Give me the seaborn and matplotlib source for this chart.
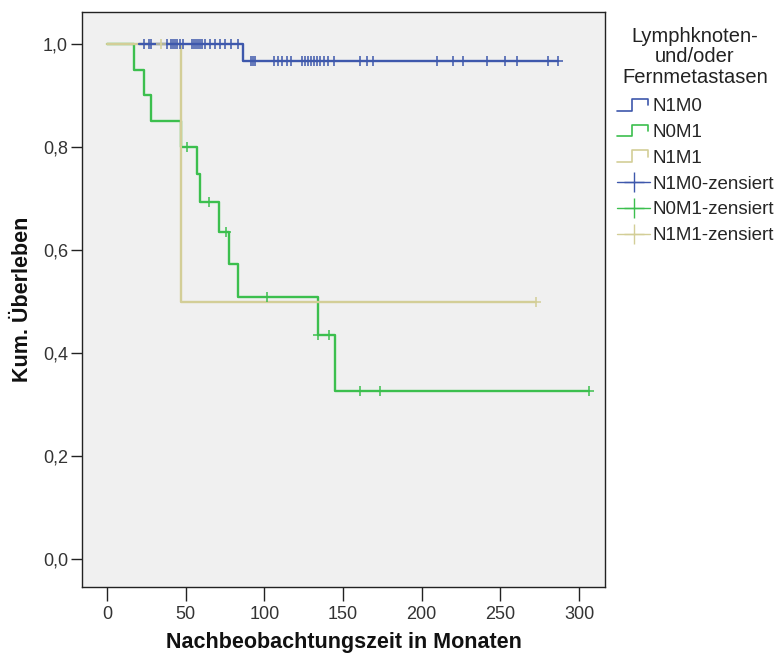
import numpy as np
import pandas as pd
import matplotlib
matplotlib.use("Agg")
import matplotlib.pyplot as plt
import seaborn as sns
from matplotlib.lines import Line2D
from matplotlib.legend_handler import HandlerBase
from matplotlib.ticker import FuncFormatter

# ---------------- data (months) ----------------
groups = ["N1M0", "N0M1", "N1M1"]
curve_start = [20.5, 0.0, 0.0]

n1m0_events = [86.5]
n1m0_censored = [23.2, 27.0, 28.0, 38.1, 40.7, 41.9, 43.2, 44.5, 46.4, 48.3,
                 54.0, 55.3, 56.6, 57.8, 59.1, 60.4, 62.3, 65.5, 68.6, 71.8,
                 75.0, 78.8, 83.3,
                 91.5, 93.0, 94.1, 106.1, 108.7, 111.2, 114.4, 117.0, 123.9, 125.9,
                 127.8, 129.7, 131.6, 133.5, 135.4, 137.9, 140.4, 144.3, 160.8,
                 165.3, 169.1, 209.7, 219.9, 226.3, 241.5, 253.0, 260.6, 280.3, 286.7]

n0m1_events = [17.3, 23.7, 27.8, 46.8, 57.0, 59.0, 71.2, 77.5, 83.5, 134.0, 145.0]
n0m1_censored = [50.8, 64.8, 75.5, 101.5, 134.0, 141.0, 161.0, 173.5, 306.4]

n1m1_events = [46.8]
n1m1_censored = [34.5, 272.7]

events = [n1m0_events, n0m1_events, n1m1_events]
censored = [n1m0_censored, n0m1_censored, n1m1_censored]

colors = ["#3E58AC", "#3CBF4E", "#D3CE97"]
legend_title = "Lymphknoten-\nund/oder\nFernmetastasen"


def kaplan_meier(ev, ce, start):
    ev = np.asarray(ev, float)
    ce = np.asarray(ce, float)
    alltimes = np.concatenate([ev, ce])
    t_pts, s_pts = [start], [1.0]
    s = 1.0
    for t in np.unique(ev):
        d = np.sum(ev == t)
        n = np.sum(alltimes >= t)
        s *= 1 - d / n
        t_pts.append(t)
        s_pts.append(s)
    tmax = alltimes.max()
    if tmax > t_pts[-1]:
        t_pts.append(tmax)
        s_pts.append(s)
    t_arr, s_arr = np.array(t_pts), np.array(s_pts)
    idx = np.searchsorted(t_arr, ce, side="right") - 1
    return t_arr, s_arr, ce, s_arr[idx]


curve_rows, cens_rows = [], []
for g, ev, ce, st in zip(groups, events, censored, curve_start):
    t, s, ct, cs = kaplan_meier(ev, ce, st)
    curve_rows.append(pd.DataFrame({"t": t, "s": s, "group": g}))
    cens_rows.append(pd.DataFrame({"t": ct, "s": cs, "group": g}))
curves = pd.concat(curve_rows, ignore_index=True)
cens = pd.concat(cens_rows, ignore_index=True)

# ---------------- figure ----------------
sns.set_style("white")
plt.rcParams["font.family"] = ["Liberation Sans", "DejaVu Sans"]

W, H = 777, 655
fig = plt.figure(figsize=(W / 100, H / 100), dpi=100)
ax = fig.add_axes([82 / W, 1 - 587 / H, (605 - 82) / W, (587 - 12) / H])
ax.set_facecolor("#F0F0F0")

zorders = {"N1M0": 3, "N0M1": 2, "N1M1": 2.5}
for g, c in zip(groups, colors):
    sub = curves[curves.group == g]
    sns.lineplot(data=sub, x="t", y="s", color=c, drawstyle="steps-post",
                 estimator=None, sort=False, lw=1.7, ax=ax, legend=False,
                 zorder=zorders[g])
for g, c in zip(groups, colors):
    sub = cens[cens.group == g]
    sns.scatterplot(data=sub, x="t", y="s", color=c, marker="+", s=55,
                    linewidth=1.1, ax=ax, legend=False, zorder=5)

ax.set_xlim(-15.9, 316.5)
ax.set_ylim(-0.054, 1.062)
ax.set_xticks(np.arange(0, 301, 50))
ax.set_yticks(np.arange(0, 1.01, 0.2))
ax.yaxis.set_major_formatter(FuncFormatter(lambda v, p: f"{v:.1f}".replace(".", ",")))
ax.tick_params(axis="both", direction="out", width=1, color="#222222",
               labelsize=13, labelcolor="#333333", bottom=True, left=True)
ax.tick_params(axis="x", length=10, pad=4)
ax.tick_params(axis="y", length=8, pad=2)
for sp in ax.spines.values():
    sp.set_color("#222222")
    sp.set_linewidth(1.0)

ax.set_xlabel("Nachbeobachtungszeit in Monaten", fontsize=15.5, fontweight="bold",
              labelpad=6, color="#111111")
ax.set_ylabel("Kum. Überleben", fontsize=15.5, fontweight="bold", labelpad=7,
              color="#111111")


class StepHandler(HandlerBase):
    def create_artists(self, legend, orig_handle, xdescent, ydescent, width,
                       height, fontsize, trans):
        x0 = -xdescent
        y0 = -ydescent
        xs = [x0, x0 + 0.45 * width, x0 + 0.45 * width, x0 + 0.95 * width, x0 + 0.95 * width]
        ys = [y0 + 0.05 * height, y0 + 0.05 * height, y0 + 0.95 * height,
              y0 + 0.95 * height, y0 + 0.45 * height]
        ln = Line2D(xs, ys, color=orig_handle.get_color(), lw=1.2, transform=trans)
        return [ln]


step_handles = [Line2D([], [], color=c) for c in colors]
cens_handles = [Line2D([], [], color=c, lw=1.0, marker="+", markersize=14,
                       markeredgewidth=1.0) for c in colors]
handles = step_handles + cens_handles
labels = groups + [g + "-zensiert" for g in groups]
hmap = {h: StepHandler() for h in step_handles}

fig.text(695 / W, 1 - 27 / H, legend_title, ha="center", va="top",
         fontsize=14.5, linespacing=1.1, color="#222222")

leg = fig.legend(handles, labels, loc="upper left",
                 bbox_to_anchor=(606 / W, 1 - 87 / H), frameon=False,
                 fontsize=13.5, handlelength=1.75, handletextpad=0.12,
                 labelspacing=0.46, borderpad=0.1, handler_map=hmap, numpoints=1)

fig.savefig("out.png", dpi=100, facecolor="white")
